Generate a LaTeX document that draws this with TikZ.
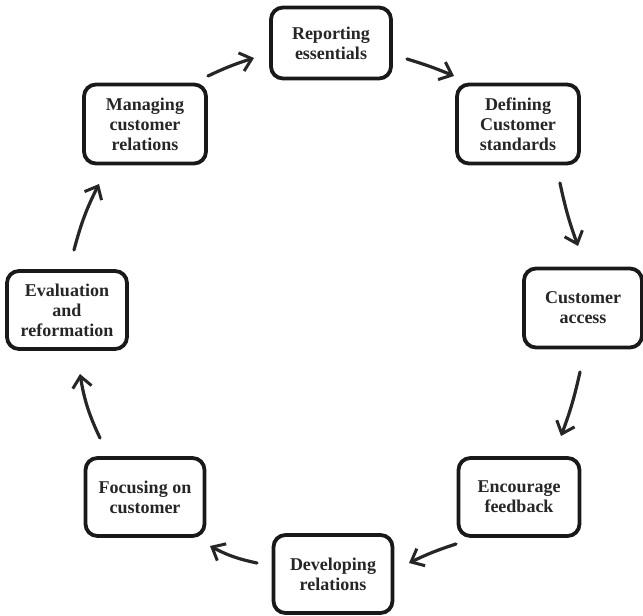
\documentclass[tikz,border=0pt]{standalone}
\usepackage{fontspec}
\setmainfont{Liberation Serif}
\usetikzlibrary{arrows.meta}
\begin{document}
\begin{tikzpicture}[x=1pt,y=-1pt,
  stepbox/.style={draw=black!90, line width=3.8pt, rounded corners=12pt, fill=white,
    align=center, font=\bfseries\fontsize{18}{20}\selectfont, text=black!85, inner sep=0pt},
  flow/.style={draw=black!85, line width=3.2pt, line cap=round, line join=round,
    -{Straight Barb[length=11pt,width=19pt,line width=3pt]}}]
\useasboundingbox (0,0) rectangle (643,616);
\node[stepbox, minimum width=120pt, minimum height=71pt] (rep) at (331,43) {Reporting\\essentials};
\node[stepbox, minimum width=122pt, minimum height=79pt] (def) at (518,124) {Defining\\Customer\\standards};
\node[stepbox, minimum width=118pt, minimum height=79pt] (acc) at (583,308) {Customer\\access};
\node[stepbox, minimum width=121pt, minimum height=78pt] (enc) at (519,497) {Encourage\\feedback};
\node[stepbox, minimum width=119pt, minimum height=78pt] (dev) at (333,574) {Developing\\relations};
\node[stepbox, minimum width=119pt, minimum height=78pt] (foc) at (145,497) {Focusing on\\customer};
\node[stepbox, minimum width=120pt, minimum height=78pt] (eva) at (67,310) {Evaluation\\and\\reformation};
\node[stepbox, minimum width=122pt, minimum height=79pt] (man) at (145,124) {Managing\\customer\\relations};
\coordinate (a1s) at (208,76);  \coordinate (a1e) at (254,58);
\coordinate (a2s) at (407,59);  \coordinate (a2e) at (454,76);
\coordinate (a3s) at (560,183); \coordinate (a3e) at (578,246);
\coordinate (a4s) at (580,372); \coordinate (a4e) at (561,436);
\coordinate (a5s) at (456,544); \coordinate (a5e) at (409,563);
\coordinate (a6s) at (257,563); \coordinate (a6e) at (210,546);
\coordinate (a7s) at (100,438); \coordinate (a7e) at (80,374);
\coordinate (a8s) at (74,250);  \coordinate (a8e) at (99,184);
\draw[flow] (a1s) to[bend left=4] (a1e);
\draw[flow] (a2s) to[bend left=3] (a2e);
\draw[flow] (a3s) to[bend right=4] (a3e);
\draw[flow] (a4s) to[bend left=4] (a4e);
\draw[flow] (a5s) to[bend right=4] (a5e);
\draw[flow] (a6s) to[bend left=8] (a6e);
\draw[flow] (a7s) to[bend left=8] (a7e);
\draw[flow] (a8s) to[bend left=6] (a8e);
\end{tikzpicture}
\end{document}
